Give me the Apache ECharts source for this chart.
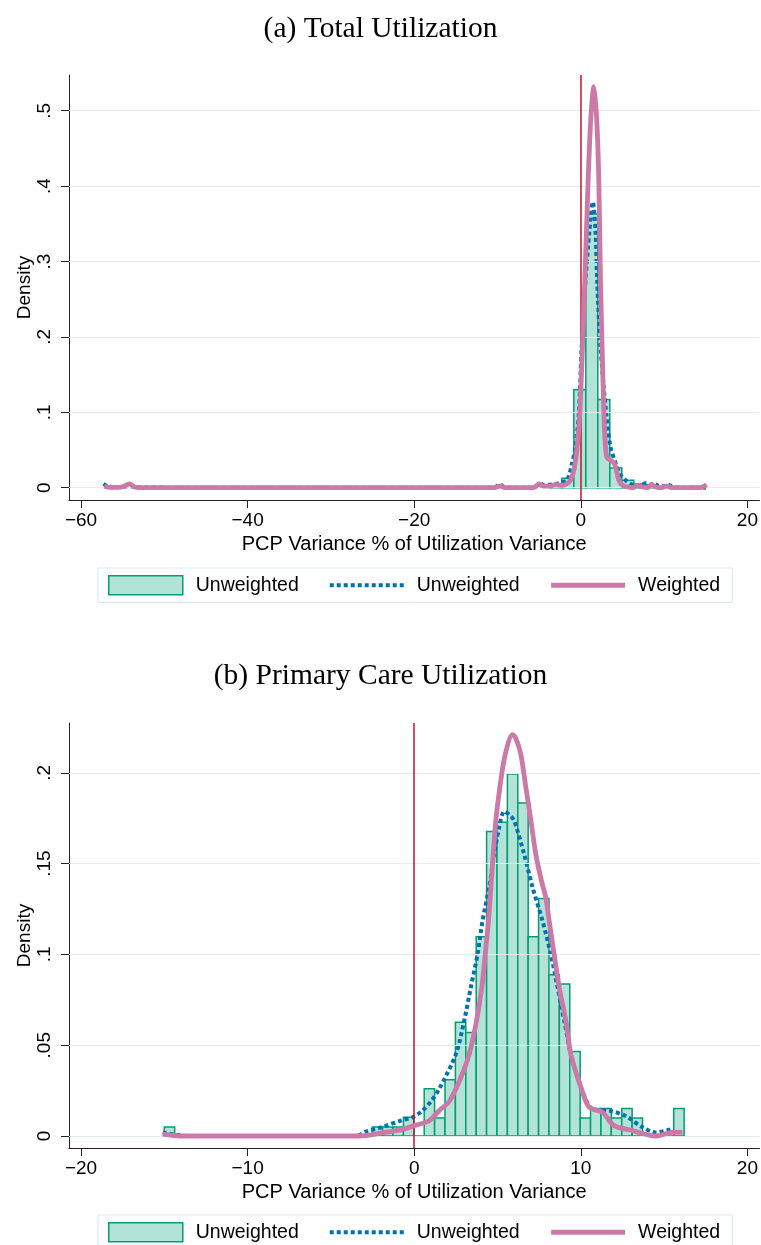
<!DOCTYPE html>
<html>
<head>
<meta charset="utf-8">
<script src="https://cdn.jsdelivr.net/npm/echarts@6/dist/echarts.min.js"></script>
<style>
  html, body { margin: 0; padding: 0; background: #fff; }
  #chart { width: 761px; height: 1245px; }
</style>
</head>
<body>
<div id="chart"></div>
<script>
// (a) Total Utilization
const totalBinEdges = [-3.72, -2.28, -0.84, 0.60, 2.04, 3.48, 4.92, 6.36, 7.80, 9.24];
const totalHist = [0.005, 0.0125, 0.130, 0.363, 0.117, 0.026, 0.010, 0.005, 0.004];
const totalUnwX = [-57.3, -56.8, -56, -54.2, -53, -45, -20, -10.5, -9.7, -9.0, -6, -5.3, -4.8, -4.3, -3.8, -3.0, -2.4, -1.64, -1.04, -0.64, -0.24, 0.1, 0.56, 1.04, 1.44, 1.76, 1.96, 2.36, 3.04, 3.56, 4.16, 4.7, 5.36, 6.0, 6.6, 7.2, 7.7, 8.3, 8.8, 9.4, 10, 10.5, 11, 12, 14, 15];
const totalUnwY = [0.005, 0.002, 0.0005, 0.002, 0.0005, 0, 0, 0, 0.004, 0, 0, 0.002, 0.005, 0.003, 0.004, 0.005, 0.007, 0.010, 0.033, 0.054, 0.099, 0.187, 0.275, 0.341, 0.379, 0.341, 0.275, 0.187, 0.099, 0.054, 0.033, 0.018, 0.010, 0.005, 0.003, 0.002, 0.006, 0.004, 0.006, 0.002, 0.002, 0.004, 0.001, 0, 0, 0];
const totalWtdX = [-57.2, -56.5, -55.5, -54.8, -54.2, -53.6, -52.5, -45, -30, -15, -10.5, -9.7, -9.0, -6, -5.5, -5.0, -4.5, -3.8, -3.0, -2.2, -1.6, -1.24, -0.8, -0.44, -0.12, 0.2, 0.48, 0.88, 1.2, 1.56, 1.9, 2.16, 2.36, 2.56, 2.76, 2.96, 3.15, 3.6, 4.0, 4.3, 4.56, 5.0, 5.6, 6.2, 6.8, 7.4, 8.0, 8.5, 9.0, 9.6, 10.3, 11, 12, 13, 14, 14.6, 15.1];
const totalWtdY = [0.002, 0.0005, 0.0005, 0.002, 0.005, 0.001, 0, 0, 0, 0, 0, 0.002, 0, 0, 0.001, 0.005, 0.002, 0.002, 0.004, 0.003, 0.006, 0.010, 0.025, 0.054, 0.099, 0.187, 0.275, 0.408, 0.490, 0.532, 0.490, 0.408, 0.275, 0.187, 0.099, 0.054, 0.040, 0.036, 0.033, 0.022, 0.010, 0.003, 0.001, 0, 0.003, 0.001, 0, 0.004, 0.001, 0, 0.002, 0, 0, 0, 0, 0.001, 0.004];
const totalXTicks = [-60, -40, -20, 0, 20];
const totalYTicks = [0, 0.1, 0.2, 0.3, 0.4, 0.5];

// (b) Primary Care Utilization
const pcBinStart = -15.0;
const pcBinWidth = 0.624;
const pcHist = [0.005, 0, 0, 0, 0, 0, 0, 0, 0, 0, 0, 0, 0, 0, 0, 0, 0, 0, 0, 0,
  0.005, 0.005, 0.005, 0.0103, 0, 0.026, 0.0099, 0.031, 0.0626, 0.057,
  0.1097, 0.1677, 0.1727, 0.1993, 0.1833, 0.1097, 0.1308, 0.0888, 0.0837, 0.0466,
  0.0099, 0.0152, 0.0152, 0.0099, 0.0152, 0.0099, 0, 0, 0, 0.0152];
const pcUnwX = [-15.1, -14.5, -13.5, -10, -4, -3.3, -2.9, -1.9, -0.7, -0.1, 0.5, 1.0, 1.5, 2.5, 3.0, 3.4, 3.8, 4.1, 4.5, 4.8, 5.1, 5.4, 5.7, 6.0, 6.6, 7.1, 7.7, 8.2, 8.6, 9.0, 9.4, 10.0, 10.7, 11.7, 12.7, 13.7, 14.5, 15.5];
const pcUnwY = [0.002, 0.001, 0, 0, 0, 0.0005, 0.0024, 0.005, 0.0088, 0.0103, 0.014, 0.019, 0.026, 0.045, 0.0635, 0.082, 0.100, 0.1185, 0.137, 0.155, 0.170, 0.1787, 0.177, 0.1736, 0.155, 0.137, 0.1185, 0.100, 0.082, 0.0635, 0.045, 0.027, 0.0149, 0.014, 0.011, 0.0048, 0.002, 0.0039];
const pcWtdX = [-15.1, -14, -10, -5, -3.3, -1.9, -0.7, 0.1, 0.9, 1.5, 2.1, 2.7, 3.3, 3.74, 4.06, 4.26, 4.46, 4.6, 4.74, 4.9, 5.14, 5.46, 5.9, 6.1, 6.4, 6.7, 7.0, 7.3, 7.6, 7.9, 8.1, 8.4, 8.7, 9.1, 9.4, 10.0, 10.5, 11.3, 12.0, 13.1, 14.5, 15.5, 16.1];
const pcWtdY = [0.001, 0, 0, 0, 0, 0.0018, 0.0037, 0.006, 0.0084, 0.014, 0.019, 0.030, 0.045, 0.0635, 0.082, 0.100, 0.1185, 0.137, 0.155, 0.174, 0.192, 0.210, 0.221, 0.219, 0.210, 0.192, 0.174, 0.155, 0.142, 0.131, 0.1185, 0.100, 0.082, 0.0635, 0.045, 0.027, 0.0158, 0.013, 0.0057, 0.003, 0, 0.002, 0.002];
const pcXTicks = [-20, -10, 0, 10, 20];
const pcYTicks = [0, 0.05, 0.1, 0.15, 0.2];

const FILL = '#b3e2d6', EDGE = '#009e73', BLUE = '#0072b2', PINK = '#cc79a7', RED = '#c8102e';
const SANS = 'Liberation Sans';
const DOTS = [4, 3];

const zip = (xs, ys) => xs.map((x, i) => [x, ys[i]]);
const edgesFrom = (start, width, n) => Array.from({ length: n + 1 }, (_, i) => start + i * width);
const histData = (edges, heights) => heights.map((h, i) => [edges[i], edges[i + 1], h]);
const fmtX = v => (v < 0 ? '\u2212' + Math.abs(v) : String(v));
const fmtY = v => (v === 0 ? '0' : String(v).replace(/^0/, ''));
const legendNames = { histA: 'Unweighted', kdeA: 'Unweighted', wkdeA: 'Weighted', histB: 'Unweighted', kdeB: 'Unweighted', wkdeB: 'Weighted' };

const chart = echarts.init(document.getElementById('chart'));

function histSeries(name, idx, data) {
    return {
        name: name,
        type: 'custom',
        xAxisIndex: idx,
        yAxisIndex: idx,
        z: 3,
        encode: { x: [0, 1], y: 2 },
        data: data,
        renderItem: (params, api) => {
            const p0 = api.coord([api.value(0), api.value(2)]);
            const p1 = api.coord([api.value(1), 0]);
            return {
                type: 'rect',
                shape: { x: p0[0], y: p0[1], width: p1[0] - p0[0], height: p1[1] - p0[1] },
                style: { fill: FILL, stroke: EDGE, lineWidth: 1.5 }
            };
        }
    };
}

function lineSeries(name, idx, data, color, dotted, z) {
    return {
        name: name,
        type: 'line',
        xAxisIndex: idx,
        yAxisIndex: idx,
        z: z,
        data: data,
        showSymbol: false,
        symbol: 'none',
        smooth: 0.3,
        lineStyle: { color: color, width: dotted ? 4 : 4.8, type: dotted ? DOTS : 'solid', cap: 'butt' },
        itemStyle: { color: color }
    };
}

function refSeries(idx, yTicks) {
    return {
        type: 'line',
        xAxisIndex: idx,
        yAxisIndex: idx,
        z: 1,
        data: [],
        markLine: {
            silent: true,
            symbol: 'none',
            label: { show: false },
            animation: false,
            data: yTicks.map(v => ({ yAxis: v, lineStyle: { color: '#e4edf0', width: 1, type: 'solid' } }))
                .concat([{ xAxis: 0, lineStyle: { color: RED, width: 1.5, type: 'solid' } }])
        }
    };
}

function xAxis(idx, min, max, ticks) {
    return {
        type: 'value', gridIndex: idx, min: min, max: max,
        name: 'PCP Variance % of Utilization Variance',
        nameLocation: 'middle', nameGap: 34,
        nameTextStyle: { fontFamily: SANS, fontSize: 20, color: '#000' },
        axisLine: { show: true, onZero: false, lineStyle: { color: '#222', width: 1 } },
        axisTick: { show: true, length: 8, customValues: ticks, lineStyle: { color: '#222' } },
        axisLabel: { customValues: ticks, formatter: fmtX, margin: 11, fontFamily: SANS, fontSize: 19, color: '#000' },
        splitLine: { show: false }
    };
}

function yAxis(idx, min, max, ticks) {
    return {
        type: 'value', gridIndex: idx, min: min, max: max,
        name: 'Density',
        nameLocation: 'middle', nameGap: 35, nameRotate: 90, nameMoveOverlap: false,
        nameTextStyle: { fontFamily: SANS, fontSize: 19, color: '#000' },
        axisLine: { show: true, onZero: false, lineStyle: { color: '#222', width: 1 } },
        axisTick: { show: true, length: 8, customValues: ticks, lineStyle: { color: '#222' } },
        axisLabel: { customValues: ticks, formatter: fmtY, rotate: 90, margin: 15, fontFamily: SANS, fontSize: 19, color: '#000' },
        splitLine: { show: false }
    };
}

function legend(top, names) {
    return {
        top: top, left: 98,
        itemWidth: 74, itemHeight: 19, itemGap: 29,
        padding: [7, 12, 7, 10],
        borderColor: '#dde7ea', borderWidth: 1,
        backgroundColor: '#fff',
        selectedMode: false,
        formatter: n => legendNames[n],
        textStyle: { fontFamily: SANS, fontSize: 19.5, color: '#000', padding: [0, 0, 0, 8] },
        data: [
            { name: names[0], icon: 'rect', itemStyle: { color: FILL, borderColor: EDGE, borderWidth: 1.5 } },
            { name: names[1], itemStyle: { opacity: 0 }, lineStyle: { color: BLUE, width: 4, type: DOTS, cap: 'butt' } },
            { name: names[2], itemStyle: { opacity: 0 }, lineStyle: { color: PINK, width: 4.8, type: 'solid' } }
        ]
    };
}

const titleStyle = { fontFamily: 'Liberation Serif', fontSize: 29.5, fontWeight: 'normal', color: '#000' };

const totalEdgesHist = histData(totalBinEdges, totalHist);
const pcEdgesHist = histData(edgesFrom(pcBinStart, pcBinWidth, pcHist.length), pcHist);

chart.setOption({
    animation: false,
    backgroundColor: '#fff',
    title: [
        { text: '(a) Total Utilization', left: 'center', top: 9, textStyle: titleStyle },
        { text: '(b) Primary Care Utilization', left: 'center', top: 656, textStyle: titleStyle }
    ],
    legend: [
        legend(568, ['histA', 'kdeA', 'wkdeA']),
        legend(1215, ['histB', 'kdeB', 'wkdeB'])
    ],
    grid: [
        { left: 69, top: 75, width: 691, height: 425 },
        { left: 69, top: 723, width: 691, height: 425 }
    ],
    xAxis: [
        xAxis(0, -61.44, 21.44, totalXTicks),
        xAxis(1, -20.72, 20.72, pcXTicks)
    ],
    yAxis: [
        yAxis(0, -0.0163, 0.5474, totalYTicks),
        yAxis(1, -0.0066, 0.2274, pcYTicks)
    ],
    series: [
        refSeries(0, totalYTicks),
        histSeries('histA', 0, totalEdgesHist),
        lineSeries('kdeA', 0, zip(totalUnwX, totalUnwY), BLUE, true, 4),
        lineSeries('wkdeA', 0, zip(totalWtdX, totalWtdY), PINK, false, 5),
        refSeries(1, pcYTicks),
        histSeries('histB', 1, pcEdgesHist),
        lineSeries('kdeB', 1, zip(pcUnwX, pcUnwY), BLUE, true, 4),
        lineSeries('wkdeB', 1, zip(pcWtdX, pcWtdY), PINK, false, 5)
    ]
});
</script>
</body>
</html>
